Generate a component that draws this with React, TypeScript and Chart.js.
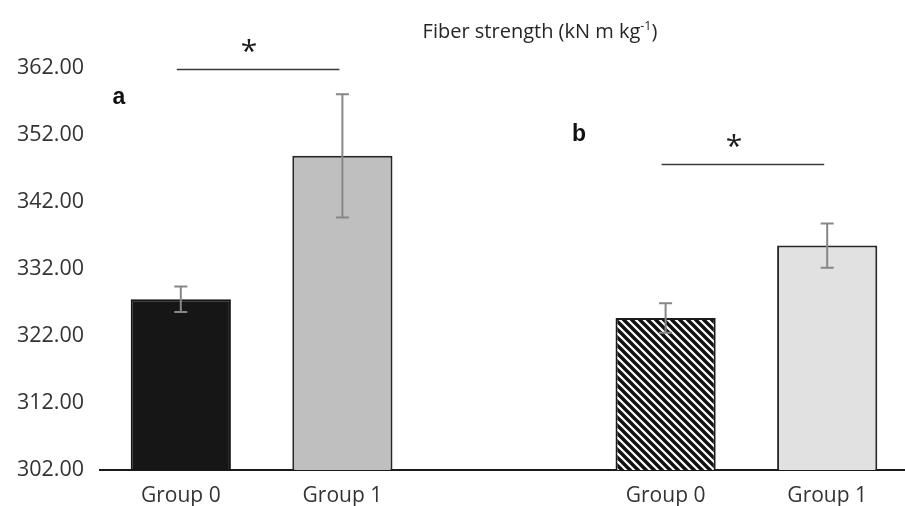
import React, { useEffect, useRef } from "react";
import { Chart, registerables } from "chart.js";

Chart.register(...registerables);

// ---- data ----
const categories = ["Group 0", "Group 1", "", "Group 0", "Group 1"];
const means: (number | null)[] = [327.5, 348.9, null, 324.7, 335.5];
const errors: (number | null)[] = [1.9, 9.2, null, 2.2, 3.3];
const yMin = 302;
const yMax = 362;
const yStep = 10;
const panelLabels = ["a", "b"];
const titleMain = "Fiber strength (kN m kg";
const titleSup = "-1";
const titleEnd = ")";
// significance brackets: [from index, to index, y value of the line]
const sigFrom = [0, 3];
const sigTo = [1, 4];
const sigLevel = [361.8, 347.7];
const sigMark = "*";

const FONT = "'Open Sans', sans-serif";

function makeStripePattern(): CanvasPattern | string {
  const p = 8;
  const c = document.createElement("canvas");
  c.width = p;
  c.height = p;
  const g = c.getContext("2d");
  if (!g) return "#000";
  g.fillStyle = "#ffffff";
  g.fillRect(0, 0, p, p);
  g.strokeStyle = "#111111";
  g.lineWidth = 3.4;
  g.beginPath();
  g.moveTo(0, 0);
  g.lineTo(p, p);
  g.moveTo(-p, 0);
  g.lineTo(p, 2 * p);
  g.moveTo(0, -p);
  g.lineTo(2 * p, p);
  g.stroke();
  const pat = g.createPattern(c, "repeat");
  return pat || "#000";
}

const overlayPlugin = {
  id: "overlay",
  afterDatasetsDraw(chart: any) {
    const ctx: CanvasRenderingContext2D = chart.ctx;
    const meta = chart.getDatasetMeta(0);
    const ys = chart.scales.y;
    const xs = chart.scales.x;
    ctx.save();
    // error bars
    ctx.strokeStyle = "#878787";
    ctx.lineWidth = 2;
    means.forEach((m, i) => {
      const e = errors[i];
      if (m == null || e == null) return;
      const bar = meta.data[i];
      const x = bar.x;
      const yt = ys.getPixelForValue(m + e);
      const yb = ys.getPixelForValue(m - e);
      ctx.beginPath();
      ctx.moveTo(x, yt);
      ctx.lineTo(x, yb);
      ctx.moveTo(x - 6.5, yt);
      ctx.lineTo(x + 6.5, yt);
      ctx.moveTo(x - 6.5, yb);
      ctx.lineTo(x + 6.5, yb);
      ctx.stroke();
    });
    // significance lines + asterisks
    sigFrom.forEach((f, k) => {
      const x1 = xs.getPixelForValue(f) - 4;
      const x2 = xs.getPixelForValue(sigTo[k]) - 3;
      const yl = Math.round(ys.getPixelForValue(sigLevel[k])) + 0.5;
      ctx.strokeStyle = "#3a3a3a";
      ctx.lineWidth = 1.5;
      ctx.beginPath();
      ctx.moveTo(x1, yl);
      ctx.lineTo(x2, yl);
      ctx.stroke();
      ctx.fillStyle = "#1a1a1a";
      ctx.font = `30px ${FONT}`;
      ctx.textAlign = "center";
      ctx.textBaseline = "alphabetic";
      const mt = ctx.measureText(sigMark);
      const cy = yl - 24;
      const off = (mt.actualBoundingBoxAscent - mt.actualBoundingBoxDescent) / 2;
      ctx.fillText(sigMark, (x1 + x2) / 2 - 9, cy + off);
    });
    // panel labels
    ctx.fillStyle = "#111111";
    ctx.font = `bold 23px 'Liberation Sans', Arial, sans-serif`;
    ctx.textAlign = "center";
    ctx.textBaseline = "alphabetic";
    ctx.fillText(panelLabels[0], chart.chartArea.left + 19, ys.getPixelForValue(356.6));
    ctx.fillText(panelLabels[1], xs.getPixelForValue(2) + 75, ys.getPixelForValue(351.1));
    // title
    ctx.fillStyle = "#262626";
    ctx.textAlign = "left";
    const mainFont = `20px ${FONT}`;
    const supFont = `12.5px ${FONT}`;
    ctx.font = mainFont;
    const w1 = ctx.measureText(titleMain).width;
    ctx.font = supFont;
    const w2 = ctx.measureText(titleSup).width;
    ctx.font = mainFont;
    const w3 = ctx.measureText(titleEnd).width;
    const total = w1 + w2 + w3;
    const tx = 540 - total / 2;
    const tb = 38;
    ctx.fillText(titleMain, tx, tb);
    ctx.font = supFont;
    ctx.fillText(titleSup, tx + w1, tb - 8);
    ctx.font = mainFont;
    ctx.fillText(titleEnd, tx + w1 + w2, tb);
    ctx.restore();
  },
};

export default function App() {
  const ref = useRef<HTMLCanvasElement | null>(null);
  useEffect(() => {
    if (!ref.current) return;
    const stripe = makeStripePattern();
    const fills = ["#161616", "#bfbfbf", "#ffffff", stripe, "#e1e1e1"];
    const borders = ["#161616", "#262626", "#ffffff", "#1a1a1a", "#262626"];
    const chart = new Chart(ref.current, {
      type: "bar",
      data: {
        labels: categories,
        datasets: [
          {
            data: means as any,
            backgroundColor: fills as any,
            borderColor: borders,
            borderWidth: 2,
            barPercentage: 0.62,
            categoryPercentage: 1,
          },
        ],
      },
      options: {
        animation: false,
        responsive: false,
        devicePixelRatio: 1,
        layout: { padding: { top: 68, left: 0, right: 0, bottom: 0 } },
        plugins: {
          legend: { display: false },
          tooltip: { enabled: false },
          title: { display: false },
        },
        scales: {
          x: {
            grid: { display: false, drawTicks: false },
            border: { display: true, color: "#1a1a1a", width: 2 },
            ticks: {
              color: "#333333",
              font: { family: FONT, size: 21 },
              padding: 13,
              maxRotation: 0,
              autoSkip: false,
            },
            afterFit(scale: any) {
              scale.height = 36;
            },
          },
          y: {
            min: yMin,
            max: yMax,
            grid: { display: false, drawTicks: false },
            border: { display: false },
            ticks: {
              stepSize: yStep,
              color: "#333333",
              font: { family: FONT, size: 21.5 },
              padding: 16,
              callback: (v: any) => Number(v).toFixed(2),
            },
            afterFit(scale: any) {
              scale.width = 100;
            },
          },
        },
      },
      plugins: [overlayPlugin],
    });
    return () => chart.destroy();
  }, []);
  return (
    <div
      style={{
        position: "fixed",
        left: 0,
        top: 0,
        width: 905,
        height: 506,
        overflow: "hidden",
        background: "#ffffff",
      }}
    >
      <canvas ref={ref} width={908} height={506} style={{ display: "block" }} />
    </div>
  );
}
